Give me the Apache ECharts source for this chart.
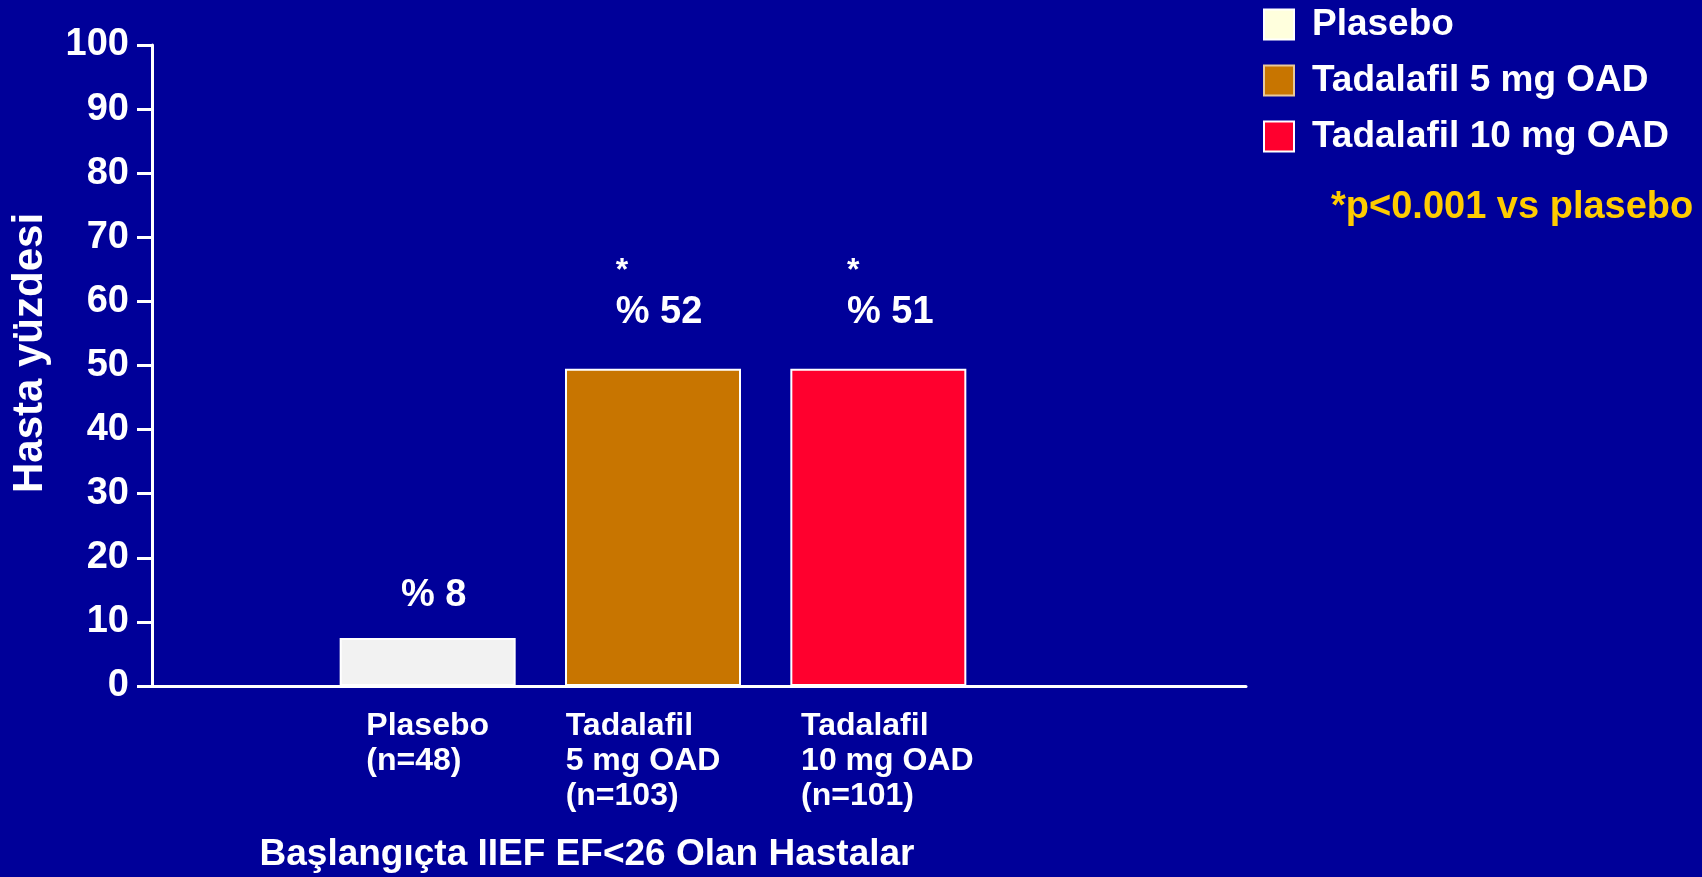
<!DOCTYPE html>
<html>
<head>
<meta charset="utf-8">
<script src="https://cdn.jsdelivr.net/npm/echarts@6/dist/echarts.min.js"></script>
<style>
  html, body { margin: 0; padding: 0; background: #000099; }
  #chart { width: 1702px; height: 877px; }
</style>
</head>
<body>
<div id="chart"></div>
<script>
// veriler
const categories = ['Plasebo\n(n=48)', 'Tadalafil\n5 mg OAD\n(n=103)', 'Tadalafil\n10 mg OAD\n(n=101)'];
const seriesNames = ['Plasebo', 'Tadalafil 5 mg OAD', 'Tadalafil 10 mg OAD'];
const barValues = [7.5, 49.5, 49.5];
const valueLabels = ['% 8', '% 52', '% 51'];
const stars = ['', '*', '*'];
const barColors = ['#F2F2F2', '#C87500', '#FF002E'];
const legendColors = ['#FFFFDD', '#C87500', '#FF002E'];
const legendBorders = ['#ffffff', '#E8C89A', '#ffffff'];
const labelDistance = [22, 36, 36];

const FONT = '"Liberation Sans", Arial, sans-serif';

const chart = echarts.init(document.getElementById('chart'));

const series = seriesNames.map(function (name, i) {
    return {
        name: name,
        type: 'bar',
        xAxisIndex: 1,
        yAxisIndex: 1,
        barWidth: 176,
        barGap: '-100%',
        data: categories.map(function (c, j) { return j === i ? barValues[i] : '-'; }),
        itemStyle: { color: barColors[i], borderColor: '#ffffff', borderWidth: 2 },
        label: {
            show: true,
            position: 'top',
            distance: labelDistance[i],
            offset: [i === 2 ? 12 : 6, 0],
            formatter: function () {
                return stars[i] ? '{s|' + stars[i] + '}\n{v|' + valueLabels[i] + '}' : '{v|' + valueLabels[i] + '}';
            },
            rich: {
                s: { color: '#fff', fontSize: 32, fontWeight: 'bold', fontFamily: FONT, lineHeight: 44, align: 'left' },
                v: { color: '#fff', fontSize: 38, fontWeight: 'bold', fontFamily: FONT, lineHeight: 40, align: 'left' }
            }
        }
    };
});

const catStyle = { color: '#fff', fontSize: 32, fontWeight: 'bold', fontFamily: FONT, lineHeight: 35, align: 'left' };

const option = {
    backgroundColor: '#000099',
    animation: false,
    legend: {
        orient: 'vertical',
        left: 1263,
        top: 6,
        padding: 0,
        itemWidth: 30,
        itemHeight: 30,
        itemGap: 19,
        selectedMode: false,
        data: seriesNames.map(function (n, i) {
            return { name: n, icon: 'rect', itemStyle: { color: legendColors[i], borderColor: legendBorders[i], borderWidth: 2 } };
        }),
        textStyle: { color: '#fff', fontSize: 37, fontWeight: 'bold', fontFamily: FONT, padding: [0, 0, 0, 13] }
    },
    grid: [
        { left: 152, top: 45, width: 1094, height: 641 },
        { left: 315, top: 45, width: 676, height: 641 }
    ],
    xAxis: [
        {
            gridIndex: 0,
            type: 'category',
            data: [''],
            axisLine: { lineStyle: { color: '#fff', width: 3 } },
            axisTick: { show: false },
            axisLabel: { show: false }
        },
        {
            gridIndex: 1,
            type: 'category',
            data: categories,
            axisLine: { show: false },
            axisTick: { show: false },
            axisLabel: {
                margin: 23,
                formatter: function (v, idx) {
                    return v.split('\n').map(function (s) { return '{c' + idx + '|' + s + '}'; }).join('\n');
                },
                rich: {
                    c0: Object.assign({}, catStyle),
                    c1: Object.assign({}, catStyle, { padding: [0, 20, 0, 0] }),
                    c2: Object.assign({}, catStyle, { padding: [0, 0, 0, 18] })
                }
            }
        }
    ],
    yAxis: [
        {
            gridIndex: 0,
            type: 'value',
            min: 0,
            max: 100,
            interval: 10,
            splitLine: { show: false },
            axisLine: { show: true, lineStyle: { color: '#fff', width: 3 } },
            axisTick: { show: true, length: 15, lineStyle: { color: '#fff', width: 3 } },
            axisLabel: { color: '#fff', fontSize: 38, fontWeight: 'bold', fontFamily: FONT, margin: 23 }
        },
        {
            gridIndex: 1,
            type: 'value',
            min: 0,
            max: 100,
            show: false,
            splitLine: { show: false }
        }
    ],
    graphic: [
        {
            type: 'text',
            x: 30,
            y: 353,
            rotation: Math.PI / 2,
            style: {
                text: 'Hasta yüzdesi',
                fill: '#fff',
                font: 'bold 42px ' + FONT,
                textAlign: 'center',
                textVerticalAlign: 'middle'
            }
        },
        {
            type: 'text',
            x: 1331,
            y: 208,
            style: {
                text: '*p<0.001 vs plasebo',
                fill: '#FFCC00',
                font: 'bold 38px ' + FONT,
                textAlign: 'left',
                textVerticalAlign: 'middle'
            }
        },
        {
            type: 'text',
            x: 587,
            y: 855,
            style: {
                text: 'Başlangıçta IIEF EF<26 Olan Hastalar',
                fill: '#fff',
                font: 'bold 37px ' + FONT,
                textAlign: 'center',
                textVerticalAlign: 'middle'
            }
        }
    ],
    series: series
};

chart.setOption(option);
window.onresize = function () {
    chart.resize();
};
</script>
</body>
</html>
